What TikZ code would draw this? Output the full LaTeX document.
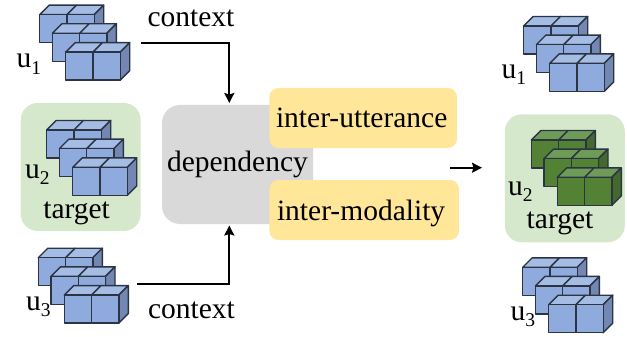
\documentclass[tikz,border=0pt]{standalone}
\usepackage{fontspec}
\setmainfont{Liberation Serif}
\usetikzlibrary{arrows.meta}
\definecolor{bluef}{HTML}{8FAADC}
\definecolor{bluet}{HTML}{A5BCE4}
\definecolor{blues}{HTML}{7387B2}
\definecolor{greenf}{HTML}{548235}
\definecolor{greent}{HTML}{6F9B58}
\definecolor{greens}{HTML}{45692C}
\definecolor{cubeline}{HTML}{2B3443}
\definecolor{bgreen}{HTML}{D6E8CC}
\definecolor{bgray}{HTML}{D9D9D9}
\definecolor{byellow}{HTML}{FFE699}
\newcommand{\cuberow}[5]{%
  \begin{scope}[shift={(#1,#2)},draw=cubeline,line width=1.4pt,line join=round]
    \filldraw[fill=#4] (0,0) -- (9.5,-9.5) -- (36.8,-9.5) -- (27.3,0) -- cycle;
    \filldraw[fill=#4] (27.3,0) -- (36.8,-9.5) -- (64,-9.5) -- (54.5,0) -- cycle;
    \filldraw[fill=#5] (54.5,0) -- (64,-9.5) -- (64,18.5) -- (54.5,28) -- cycle;
    \filldraw[fill=#3] (0,0) rectangle (27.3,28);
    \filldraw[fill=#3] (27.3,0) rectangle (54.5,28);
  \end{scope}}
\newcommand{\cubestack}[5]{%
  \begin{scope}[shift={(#1,#2)}]
    \cuberow{0}{0}{#3}{#4}{#5}
    \cuberow{12.7}{18.6}{#3}{#4}{#5}
    \cuberow{26}{37.4}{#3}{#4}{#5}
  \end{scope}}
\tikzset{
  lbl/.style={anchor=base west,inner sep=0pt,outer sep=0pt,font=\fontsize{29.5}{32}\selectfont},
  targetbox/.style={fill=bgreen,rounded corners=17pt,inner sep=0pt,minimum width=120pt,minimum height=128pt},
  graybox/.style={fill=bgray,rounded corners=18pt,inner sep=0pt,minimum width=151pt,minimum height=119pt},
  yellowbox/.style={fill=byellow,rounded corners=9pt,inner sep=0pt,minimum height=60pt},
  flow/.style={line width=1.8pt,-{Stealth[length=10pt,width=10pt,inset=1.5pt]}}
}
\newcommand{\usub}[1]{u\raisebox{-6pt}{\fontsize{19.5}{20}\selectfont #1}}
\begin{document}
\begin{tikzpicture}[x=1pt,y=-1pt]
\useasboundingbox (0,0) rectangle (627,337);
% panels
\node[targetbox] (tgL) at (80.7,167) {};
\node[targetbox] (tgR) at (564.8,178.3) {};
\node[graybox] (dep) at (237.5,164.5) {};
\node[yellowbox,minimum width=187.5pt] (iu) at (363.2,118) {};
\node[yellowbox,minimum width=189.5pt] (im) at (364.2,210) {};
% cubes
\cubestack{39.7}{14.7}{bluef}{bluet}{blues}
\cubestack{46.7}{130}{bluef}{bluet}{blues}
\cubestack{38.3}{257.7}{bluef}{bluet}{blues}
\cubestack{523.7}{26}{bluef}{bluet}{blues}
\cubestack{531.3}{140}{greenf}{greent}{greens}
\cubestack{522.7}{267.3}{bluef}{bluet}{blues}
% labels
\node[lbl] (ul1) at (16.7,68) {\usub{1}};
\node[lbl] (ul2) at (25,178) {\usub{2}};
\node[lbl] (ul3) at (26,310) {\usub{3}};
\node[lbl] (ur1) at (501.7,78) {\usub{1}};
\node[lbl] (ur2) at (508,195) {\usub{2}};
\node[lbl] (ur3) at (510.7,320) {\usub{3}};
\node[lbl] (tl) at (43.3,218) {target};
\node[lbl] (tr) at (526.7,228) {target};
\node[lbl] (ctop) at (147.5,27) {context};
\node[lbl] (cbot) at (148,318) {context};
\node[lbl] (deptxt) at (167,171) {dependency};
\node[lbl] (iutxt) at (276,128) {inter-utterance};
\node[lbl] (imtxt) at (277,220) {inter-modality};
% connectors
\coordinate (a1) at (141,42.7);
\coordinate (a2) at (136.7,284.3);
\coordinate (a3) at (229.3,103);
\coordinate (a4) at (229.3,225.5);
\coordinate (a5) at (450,167.7);
\coordinate (a6) at (482,167.7);
\draw[flow] (a1) -| (a3);
\draw[flow] (a2) -| (a4);
\draw[flow] (a5) -- (a6);
\end{tikzpicture}
\end{document}
